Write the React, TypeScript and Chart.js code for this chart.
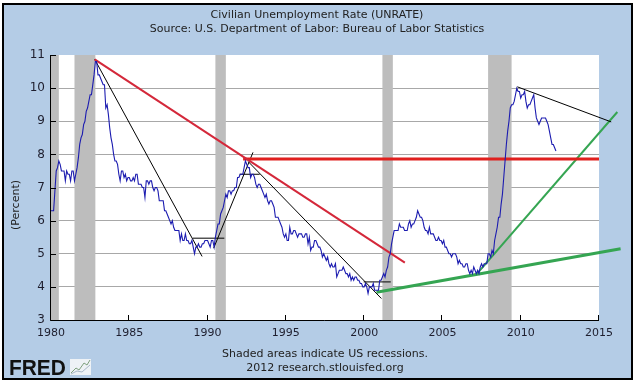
import React, { useEffect, useRef } from "react";
import { Chart, registerables } from "chart.js";

Chart.register(...registerables);

// ---- Data ----
const firstYear = 1980;
// Civilian unemployment rate, monthly from Jan 1980 (percent)
const unemploymentRate: number[] = [
  6.3, 6.3, 6.3, 6.9, 7.5, 7.6, 7.8, 7.7, 7.5, 7.5, 7.5, 7.2, // 1980
  7.5, 7.4, 7.4, 7.2, 7.5, 7.5, 7.2, 7.4, 7.6, 7.9, 8.3, 8.5, // 1981
  8.6, 8.9, 9.0, 9.3, 9.4, 9.6, 9.8, 9.8, 10.1, 10.4, 10.8, 10.8, // 1982
  10.4, 10.4, 10.3, 10.2, 10.1, 10.1, 9.4, 9.5, 9.2, 8.8, 8.5, 8.3, // 1983
  8.0, 7.8, 7.8, 7.7, 7.4, 7.2, 7.5, 7.5, 7.3, 7.4, 7.2, 7.3, // 1984
  7.3, 7.2, 7.2, 7.3, 7.2, 7.4, 7.4, 7.1, 7.1, 7.1, 7.0, 7.0, // 1985
  6.7, 7.2, 7.2, 7.1, 7.2, 7.2, 7.0, 6.9, 7.0, 7.0, 6.9, 6.6, // 1986
  6.6, 6.6, 6.6, 6.3, 6.3, 6.2, 6.1, 6.0, 5.9, 6.0, 5.8, 5.7, // 1987
  5.7, 5.7, 5.7, 5.4, 5.6, 5.4, 5.4, 5.6, 5.4, 5.4, 5.3, 5.3, // 1988
  5.4, 5.2, 5.0, 5.2, 5.2, 5.3, 5.2, 5.2, 5.3, 5.3, 5.4, 5.4, // 1989
  5.4, 5.3, 5.2, 5.4, 5.4, 5.2, 5.5, 5.7, 5.9, 5.9, 6.2, 6.3, // 1990
  6.4, 6.6, 6.8, 6.7, 6.9, 6.9, 6.8, 6.9, 6.9, 7.0, 7.0, 7.3, // 1991
  7.3, 7.4, 7.4, 7.4, 7.6, 7.8, 7.7, 7.6, 7.6, 7.3, 7.4, 7.4, // 1992
  7.3, 7.1, 7.0, 7.1, 7.1, 7.0, 6.9, 6.8, 6.7, 6.8, 6.6, 6.5, // 1993
  6.6, 6.6, 6.5, 6.4, 6.1, 6.1, 6.1, 6.0, 5.9, 5.8, 5.6, 5.5, // 1994
  5.6, 5.4, 5.4, 5.8, 5.6, 5.6, 5.7, 5.7, 5.6, 5.5, 5.6, 5.6, // 1995
  5.6, 5.5, 5.5, 5.6, 5.6, 5.3, 5.5, 5.1, 5.2, 5.2, 5.4, 5.4, // 1996
  5.3, 5.2, 5.2, 5.1, 4.9, 5.0, 4.9, 4.8, 4.9, 4.7, 4.6, 4.7, // 1997
  4.6, 4.6, 4.7, 4.3, 4.4, 4.5, 4.5, 4.5, 4.6, 4.5, 4.4, 4.4, // 1998
  4.3, 4.4, 4.2, 4.3, 4.2, 4.3, 4.3, 4.2, 4.2, 4.1, 4.1, 4.0, // 1999
  4.0, 4.1, 4.0, 3.8, 4.0, 4.0, 4.0, 4.1, 3.9, 3.9, 3.9, 3.9, // 2000
  4.2, 4.2, 4.3, 4.4, 4.3, 4.5, 4.6, 4.9, 5.0, 5.3, 5.5, 5.7, // 2001
  5.7, 5.7, 5.7, 5.9, 5.8, 5.8, 5.8, 5.7, 5.7, 5.7, 5.9, 6.0, // 2002
  5.8, 5.9, 5.9, 6.0, 6.1, 6.3, 6.2, 6.1, 6.1, 6.0, 5.8, 5.7, // 2003
  5.7, 5.6, 5.8, 5.6, 5.6, 5.6, 5.5, 5.4, 5.4, 5.5, 5.4, 5.4, // 2004
  5.3, 5.4, 5.2, 5.2, 5.1, 5.0, 5.0, 4.9, 5.0, 5.0, 5.0, 4.9, // 2005
  4.7, 4.8, 4.7, 4.7, 4.6, 4.6, 4.7, 4.7, 4.5, 4.4, 4.5, 4.4, // 2006
  4.6, 4.5, 4.4, 4.5, 4.4, 4.6, 4.7, 4.6, 4.7, 4.7, 4.7, 5.0, // 2007
  5.0, 4.9, 5.1, 5.0, 5.4, 5.6, 5.8, 6.1, 6.1, 6.5, 6.8, 7.3, // 2008
  7.8, 8.3, 8.7, 9.0, 9.4, 9.5, 9.5, 9.6, 9.8, 10.0, 9.9, 9.9, // 2009
  9.7, 9.8, 9.8, 9.9, 9.6, 9.4, 9.5, 9.5, 9.6, 9.7, 9.8, 9.4, // 2010
  9.1, 9.0, 8.9, 9.0, 9.1, 9.1, 9.1, 9.1, 9.0, 8.9, 8.7, 8.5, // 2011
  8.3, 8.3, 8.2, 8.1, // 2012
];

// NBER recessions (decimal years)
const recessionStarts = [1980.0, 1981.5, 1990.5, 2001.167, 2007.917];
const recessionEnds = [1980.5, 1982.833, 1991.167, 2001.833, 2009.417];

// Hand-drawn trend lines (decimal year, percent)
const redDownX = [1982.79, 2002.6];
const redDownY = [10.87, 4.73];
const redLevelX = [1992.27, 2015.0];
const redLevelY = [7.86, 7.86];

const blackAX = [1982.79, 1989.65];
const blackAY = [10.87, 4.92];
const blackBX = [1989.05, 1991.07];
const blackBY = [5.47, 5.47];
const blackCX = [1990.39, 1992.9];
const blackCY = [5.17, 8.06];
const blackDX = [1992.05, 1993.33];
const blackDY = [7.4, 7.4];
const blackEX = [1992.6, 2001.1];
const blackEY = [7.78, 3.65];
const blackFX = [1999.97, 2001.7];
const blackFY = [4.15, 4.15];
const blackGX = [2009.78, 2015.78];
const blackGY = [10.04, 8.98];

const greenLowX = [2000.79, 2016.38];
const greenLowY = [3.84, 5.15];
const greenHighX = [2007.2, 2016.17];
const greenHighY = [4.39, 9.28];

const xTicks = [1980, 1985, 1990, 1995, 2000, 2005, 2010, 2015];
const yTicks = [3, 4, 5, 6, 7, 8, 9, 10, 11];

const titleText = "Civilian Unemployment Rate (UNRATE)";
const subtitleText = "Source: U.S. Department of Labor: Bureau of Labor Statistics";
const yLabel = "(Percent)";
const noteText = "Shaded areas indicate US recessions.";
const creditText = "2012 research.stlouisfed.org";

const FONT = '"DejaVu Sans", Verdana, sans-serif';

function pts(xs: number[], ys: number[]) {
  return xs.map((x, i) => ({ x, y: ys[i] }));
}

export default function App() {
  const ref = useRef<HTMLCanvasElement | null>(null);

  useEffect(() => {
    const canvas = ref.current;
    if (!canvas) return;

    const seriesPoints = unemploymentRate.map((v, i) => ({
      x: firstYear + i / 12,
      y: v,
    }));

    const thin = (xs: number[], ys: number[]) => ({
      data: pts(xs, ys),
      borderColor: "#000000",
      borderWidth: 1,
      pointRadius: 0,
      clip: false as any,
    });

    const framePlugin = {
      id: "framePlugin",
      beforeDraw(chart: any) {
        const { ctx, chartArea } = chart;
        ctx.save();
        ctx.fillStyle = "#ffffff";
        ctx.fillRect(0, 0, chart.width, chart.height);
        ctx.fillStyle = "#b4cce6";
        ctx.fillRect(3, 4, 629, 375);
        ctx.strokeStyle = "#000000";
        ctx.lineWidth = 2;
        ctx.strokeRect(3, 4, 629, 375);
        ctx.fillStyle = "#ffffff";
        ctx.fillRect(
          chartArea.left,
          chartArea.top,
          chartArea.right - chartArea.left,
          chartArea.bottom - chartArea.top
        );
        ctx.restore();
      },
      beforeDatasetsDraw(chart: any) {
        const { ctx, chartArea, scales } = chart;
        ctx.save();
        ctx.fillStyle = "#bdbdbd";
        recessionStarts.forEach((s, i) => {
          const x0 = scales.x.getPixelForValue(s);
          const x1 = scales.x.getPixelForValue(recessionEnds[i]);
          ctx.fillRect(x0, chartArea.top, x1 - x0, chartArea.bottom - chartArea.top);
        });
        ctx.restore();
      },
      afterDatasetsDraw(chart: any) {
        const { ctx, chartArea, scales } = chart;
        ctx.save();
        ctx.strokeStyle = "#000000";
        ctx.lineWidth = 1;
        ctx.beginPath();
        ctx.moveTo(chartArea.left - 0.5, chartArea.top);
        ctx.lineTo(chartArea.left - 0.5, chartArea.bottom + 0.5);
        ctx.lineTo(chartArea.right, chartArea.bottom + 0.5);
        yTicks.forEach((v) => {
          const y = Math.round(scales.y.getPixelForValue(v)) + 0.5;
          ctx.moveTo(chartArea.left - 0.5, y);
          ctx.lineTo(chartArea.left + 5, y);
        });
        xTicks.forEach((v) => {
          const x = Math.round(scales.x.getPixelForValue(v)) - 0.5;
          ctx.moveTo(x, chartArea.bottom);
          ctx.lineTo(x, chartArea.bottom - 5);
        });
        ctx.stroke();
        ctx.restore();
      },
      afterDraw(chart: any) {
        const { ctx, chartArea } = chart;
        ctx.save();
        ctx.fillStyle = "#222222";
        ctx.textAlign = "center";
        ctx.textBaseline = "middle";
        ctx.font = `11px ${FONT}`;
        ctx.fillText(titleText, 317, 15);
        ctx.fillText(subtitleText, 317, 29);
        const cx = (chartArea.left + chartArea.right) / 2;
        ctx.fillText(noteText, cx, 354);
        ctx.fillText(creditText, cx, 368);
        ctx.save();
        ctx.translate(16, 205);
        ctx.rotate(-Math.PI / 2);
        ctx.fillText(yLabel, 0, 0);
        ctx.restore();
        // FRED logo
        ctx.textAlign = "left";
        ctx.textBaseline = "alphabetic";
        ctx.fillStyle = "#111111";
        ctx.font = `bold 22px "Liberation Sans", Arial, sans-serif`;
        ctx.save();
        ctx.translate(9, 375);
        ctx.scale(0.95, 1);
        ctx.fillText("FRED", 0, 0);
        ctx.restore();
        ctx.fillStyle = "#eef2f6";
        ctx.fillRect(70, 359, 21, 16);
        ctx.strokeStyle = "#7fa07f";
        ctx.lineWidth = 1;
        ctx.beginPath();
        ctx.moveTo(71, 373);
        ctx.lineTo(76, 368);
        ctx.lineTo(79, 370);
        ctx.lineTo(84, 363);
        ctx.lineTo(87, 365);
        ctx.lineTo(90, 360);
        ctx.stroke();
        ctx.strokeStyle = "#a9b9c9";
        ctx.beginPath();
        ctx.moveTo(71, 374);
        ctx.lineTo(77, 371);
        ctx.lineTo(82, 372);
        ctx.lineTo(90, 365);
        ctx.stroke();
        ctx.restore();
      },
    };

    const chart = new Chart(canvas, {
      type: "line",
      data: {
        datasets: [
          {
            data: seriesPoints,
            borderColor: "#1c1cb0",
            borderWidth: 1.1,
            pointRadius: 0,
            tension: 0,
          },
          {
            data: pts(redDownX, redDownY),
            borderColor: "#d4283a",
            borderWidth: 2,
            pointRadius: 0,
            clip: false as any,
          },
          {
            data: pts(redLevelX, redLevelY),
            borderColor: "#e0201e",
            borderWidth: 3,
            pointRadius: 0,
            clip: false as any,
          },
          thin(blackAX, blackAY),
          thin(blackBX, blackBY),
          thin(blackCX, blackCY),
          thin(blackDX, blackDY),
          thin(blackEX, blackEY),
          thin(blackFX, blackFY),
          thin(blackGX, blackGY),
          {
            data: pts(greenLowX, greenLowY),
            borderColor: "#35a552",
            borderWidth: 3,
            pointRadius: 0,
            clip: false as any,
          },
          {
            data: pts(greenHighX, greenHighY),
            borderColor: "#35a552",
            borderWidth: 2,
            pointRadius: 0,
            clip: false as any,
          },
        ],
      },
      options: {
        responsive: false,
        animation: false,
        devicePixelRatio: 1,
        layout: { padding: { left: 0, right: 38, top: 55, bottom: 44 } },
        plugins: {
          legend: { display: false },
          title: { display: false },
          tooltip: { enabled: false },
        },
        scales: {
          x: {
            type: "linear",
            min: 1980,
            max: 2015,
            afterBuildTicks: (s: any) => {
              s.ticks = xTicks.map((v) => ({ value: v }));
            },
            afterFit: (s: any) => {
              s.height = 20;
            },
            ticks: {
              callback: (v: any) => String(v),
              font: { family: FONT, size: 11 },
              color: "#1e1e2e",
              padding: 7,
              maxRotation: 0,
              autoSkip: false,
            },
            grid: { display: false, drawTicks: false },
            border: { display: false },
          },
          y: {
            min: 3,
            max: 11,
            afterBuildTicks: (s: any) => {
              s.ticks = yTicks.map((v) => ({ value: v }));
            },
            afterFit: (s: any) => {
              s.width = 51;
            },
            ticks: {
              callback: (v: any) => String(v),
              font: { family: FONT, size: 12 },
              color: "#1e1e2e",
              padding: 6,
            },
            grid: {
              drawTicks: false,
              color: (c: any) =>
                c.tick && (c.tick.value === 11 || c.tick.value === 3)
                  ? "rgba(0,0,0,0)"
                  : "#a8a8a8",
              lineWidth: 1,
            },
            border: { display: false },
          },
        },
      },
      plugins: [framePlugin],
    });

    return () => chart.destroy();
  }, []);

  return (
    <div
      style={{
        position: "fixed",
        left: 0,
        top: 0,
        width: 637,
        height: 384,
        background: "#ffffff",
      }}
    >
      <canvas
        ref={ref}
        width={637}
        height={384}
        style={{ display: "block", width: 637, height: 384 }}
      />
    </div>
  );
}
